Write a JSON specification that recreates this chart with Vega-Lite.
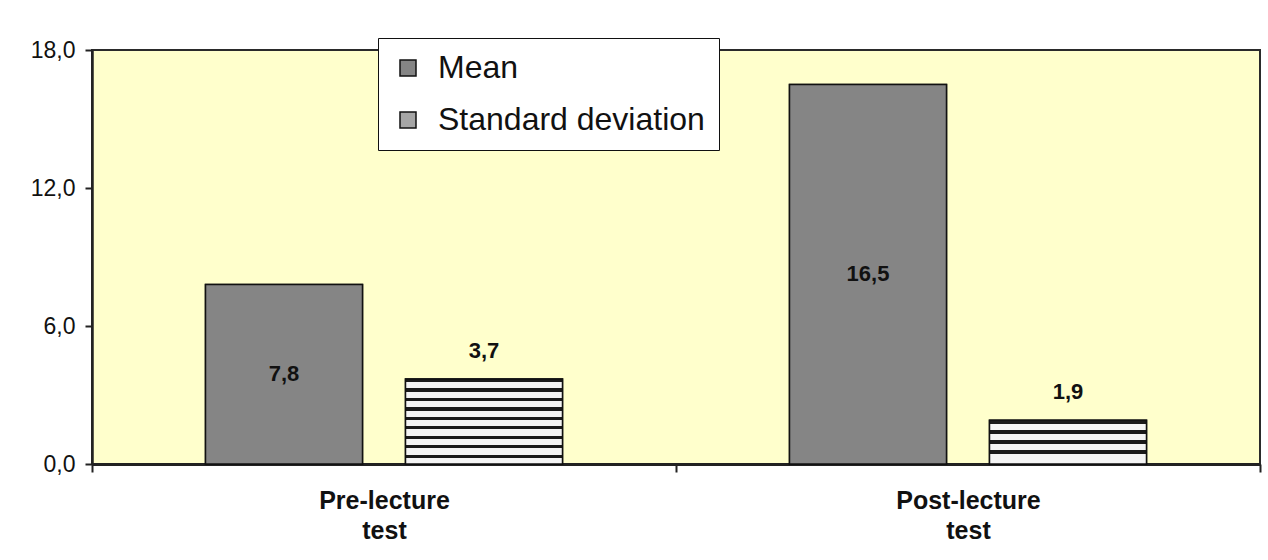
{
  "$schema": "https://vega.github.io/schema/vega-lite/v6.json",
  "autosize": {"type": "none"},
  "width": 1168,
  "height": 414,
  "padding": {"left": 92, "top": 50, "right": 8, "bottom": 96},
  "background": "#ffffff",
  "config": {
    "locale": {"number": {"decimal": ",", "thousands": ".", "grouping": [3], "currency": ["", ""]}},
    "font": "Liberation Sans",
    "view": {"fill": "#ffffcc", "stroke": "#2a2a2a", "strokeWidth": 2},
    "axis": {"grid": false, "domainColor": "#222222", "tickColor": "#222222", "labelColor": "#111111"}
  },
  "data": {
    "values": [
      {"test": "Pre-lecture test", "stat": "Mean", "value": 7.8},
      {"test": "Pre-lecture test", "stat": "Standard deviation", "value": 3.7},
      {"test": "Post-lecture test", "stat": "Mean", "value": 16.5},
      {"test": "Post-lecture test", "stat": "Standard deviation", "value": 1.9}
    ]
  },
  "encoding": {
    "x": {
      "field": "test", "type": "nominal",
      "sort": ["Pre-lecture test", "Post-lecture test"],
      "scale": {"paddingInner": 0, "paddingOuter": 0},
      "axis": {
        "title": null, "labelAngle": 0,
        "labelExpr": "split(datum.label, ' ')",
        "labelFontSize": 25, "labelFontWeight": "bold", "labelLineHeight": 30,
        "tickBand": "extent", "tickSize": 8, "tickWidth": 2,
        "domainWidth": 3, "labelPadding": 16
      }
    },
    "xOffset": {
      "field": "stat", "type": "nominal",
      "sort": ["Mean", "Standard deviation"],
      "scale": {"paddingInner": 0.215, "paddingOuter": 0.5675}
    }
  },
  "layer": [
    {
      "mark": {"type": "bar", "stroke": "#111111", "strokeWidth": 1.5},
      "encoding": {
        "y": {
          "field": "value", "type": "quantitative",
          "scale": {"domain": [0, 18], "nice": false, "zero": true},
          "axis": {
            "values": [0, 6, 12, 18], "format": ".1f", "title": null,
            "labelFontSize": 23, "labelPadding": 10, "tickSize": 7, "tickWidth": 2,
            "domainWidth": 2.5
          }
        },
        "color": {
          "field": "stat", "type": "nominal",
          "scale": {"domain": ["Mean", "Standard deviation"], "range": ["#858585", "#a5a5a5"]},
          "legend": {
            "title": null, "orient": "none", "legendX": 286, "legendY": -12,
            "direction": "vertical", "fillColor": "#ffffff", "strokeColor": "#111111",
            "padding": 14, "symbolType": "square", "symbolSize": 256,
            "symbolStrokeColor": "#111111", "symbolStrokeWidth": 1.5,
            "labelFontSize": 32, "labelOffset": 14, "rowPadding": 20,
            "labelLimit": 500, "labelColor": "#111111"
          }
        }
      }
    },
    {
      "mark": {"type": "bar", "stroke": "#111111", "strokeWidth": 1.5},
      "encoding": {
        "y": {"field": "value", "type": "quantitative", "scale": {"domain": [0, 18], "nice": false}, "axis": null},
        "fill": {
          "condition": [
            {"test": "datum.stat === 'Mean'", "value": "#858585"},
            {"test": "datum.test === 'Pre-lecture test'", "value": {
              "gradient": "linear", "x1": 0, "y1": 0, "x2": 0, "y2": 1,
              "stops": [
                {"offset": 0, "color": "#1a1a1a"}, {"offset": 0.0389, "color": "#1a1a1a"}, {"offset": 0.0389, "color": "#f4f4f4"}, {"offset": 0.1111, "color": "#f4f4f4"},
                {"offset": 0.1111, "color": "#1a1a1a"}, {"offset": 0.15, "color": "#1a1a1a"}, {"offset": 0.15, "color": "#f4f4f4"}, {"offset": 0.2222, "color": "#f4f4f4"},
                {"offset": 0.2222, "color": "#1a1a1a"}, {"offset": 0.2611, "color": "#1a1a1a"}, {"offset": 0.2611, "color": "#f4f4f4"}, {"offset": 0.3333, "color": "#f4f4f4"},
                {"offset": 0.3333, "color": "#1a1a1a"}, {"offset": 0.3722, "color": "#1a1a1a"}, {"offset": 0.3722, "color": "#f4f4f4"}, {"offset": 0.4444, "color": "#f4f4f4"},
                {"offset": 0.4444, "color": "#1a1a1a"}, {"offset": 0.4833, "color": "#1a1a1a"}, {"offset": 0.4833, "color": "#f4f4f4"}, {"offset": 0.5556, "color": "#f4f4f4"},
                {"offset": 0.5556, "color": "#1a1a1a"}, {"offset": 0.5944, "color": "#1a1a1a"}, {"offset": 0.5944, "color": "#f4f4f4"}, {"offset": 0.6667, "color": "#f4f4f4"},
                {"offset": 0.6667, "color": "#1a1a1a"}, {"offset": 0.7056, "color": "#1a1a1a"}, {"offset": 0.7056, "color": "#f4f4f4"}, {"offset": 0.7778, "color": "#f4f4f4"},
                {"offset": 0.7778, "color": "#1a1a1a"}, {"offset": 0.8167, "color": "#1a1a1a"}, {"offset": 0.8167, "color": "#f4f4f4"}, {"offset": 0.8889, "color": "#f4f4f4"},
                {"offset": 0.8889, "color": "#1a1a1a"}, {"offset": 0.9278, "color": "#1a1a1a"}, {"offset": 0.9278, "color": "#f4f4f4"}, {"offset": 1, "color": "#f4f4f4"}
              ]
            }}
          ],
          "value": {
            "gradient": "linear", "x1": 0, "y1": 0, "x2": 0, "y2": 1,
            "stops": [
              {"offset": 0, "color": "#1a1a1a"}, {"offset": 0.08, "color": "#1a1a1a"}, {"offset": 0.08, "color": "#f4f4f4"}, {"offset": 0.23, "color": "#f4f4f4"},
              {"offset": 0.23, "color": "#1a1a1a"}, {"offset": 0.31, "color": "#1a1a1a"}, {"offset": 0.31, "color": "#f4f4f4"}, {"offset": 0.46, "color": "#f4f4f4"},
              {"offset": 0.46, "color": "#1a1a1a"}, {"offset": 0.54, "color": "#1a1a1a"}, {"offset": 0.54, "color": "#f4f4f4"}, {"offset": 0.69, "color": "#f4f4f4"},
              {"offset": 0.69, "color": "#1a1a1a"}, {"offset": 0.77, "color": "#1a1a1a"}, {"offset": 0.77, "color": "#f4f4f4"}, {"offset": 1, "color": "#f4f4f4"}
            ]
          }
        }
      }
    },
    {
      "transform": [{"filter": "datum.stat === 'Mean'"}],
      "mark": {"type": "text", "fontSize": 22, "fontWeight": "bold", "baseline": "middle", "color": "#111111"},
      "encoding": {
        "y": {"field": "value", "type": "quantitative", "scale": {"domain": [0, 36], "nice": false}, "axis": null},
        "text": {"field": "value", "type": "quantitative", "format": ".1f"}
      }
    },
    {
      "transform": [{"filter": "datum.stat === 'Standard deviation'"}],
      "mark": {"type": "text", "fontSize": 22, "fontWeight": "bold", "baseline": "middle", "dy": -28, "color": "#111111"},
      "encoding": {
        "y": {"field": "value", "type": "quantitative", "scale": {"domain": [0, 18], "nice": false}, "axis": null},
        "text": {"field": "value", "type": "quantitative", "format": ".1f"}
      }
    }
  ],
  "resolve": {"scale": {"y": "independent"}}
}
